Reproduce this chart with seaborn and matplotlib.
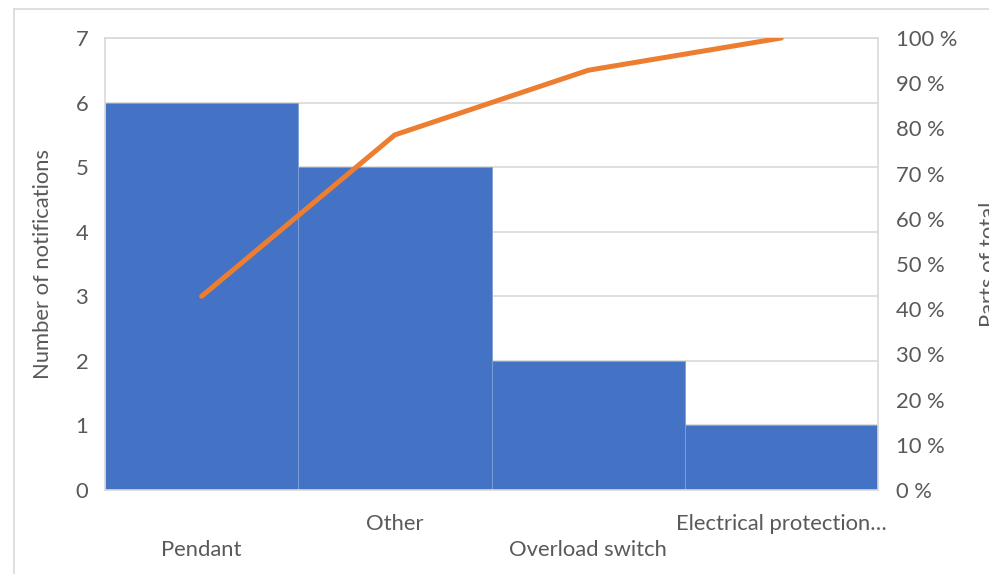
import matplotlib
matplotlib.use("Agg")
import matplotlib.pyplot as plt
import seaborn as sns
import numpy as np
import pandas as pd
from matplotlib.lines import Line2D
from matplotlib.ticker import FuncFormatter

categories = ["Pendant", "Other", "Overload switch", "Electrical protection…"]
counts = [6, 5, 2, 1]
cumulative_pct = [42.86, 78.57, 92.86, 100.0]
left_ticks = [0, 1, 2, 3, 4, 5, 6, 7]
right_ticks = [0, 10, 20, 30, 40, 50, 60, 70, 80, 90, 100]

sns.set_theme(style="white")
plt.rcParams['font.family'] = ['Lato', 'DejaVu Sans']
TXT = "#595959"
FS = 15.8

W, H = 989, 574
fig = plt.figure(figsize=(W / 100, H / 100), dpi=100)
ax = fig.add_axes([105 / W, 1 - 490 / H, (878 - 105) / W, (490 - 38) / H])

df = pd.DataFrame({"cat": categories, "n": counts})
sns.barplot(data=df, x="cat", y="n", ax=ax, color="#4472C4", width=1.0,
            saturation=1, edgecolor="#7f9fd8", linewidth=0.6, zorder=2)
ax.set_xlim(-0.5, 3.5)
ax.set_ylim(0, 7)
ax.set_yticks(left_ticks)
ax.grid(axis="y", color="#D9D9D9", linewidth=1.2, zorder=0)
ax.set_axisbelow(True)
for s in ax.spines.values():
    s.set_color("#D9D9D9")
    s.set_linewidth(1.2)
ax.tick_params(axis="y", length=0, pad=12, labelsize=FS, labelcolor=TXT)
ax.tick_params(axis="x", length=0, pad=17, labelsize=FS, labelcolor=TXT)
labels = [("\n" + c) if i % 2 == 0 else c for i, c in enumerate(categories)]
ax.set_xticks(range(len(categories)))
ax.set_xticklabels(labels)
for t in ax.get_xticklabels():
    t.set_linespacing(1.4)
    t.set_va("top")
ax.set_xlabel("")
ax.set_ylabel("Number of notifications", fontsize=FS, color=TXT, labelpad=16)

ax2 = ax.twinx()
sns.lineplot(x=np.arange(len(categories)), y=cumulative_pct, ax=ax2,
             color="#ED7D31", linewidth=3.6, zorder=3)
ax2.set_ylim(0, 100)
ax2.set_yticks(right_ticks)
ax2.yaxis.set_major_formatter(FuncFormatter(lambda v, p: f"{int(v)} %"))
ax2.tick_params(axis="y", length=0, pad=13, labelsize=FS, labelcolor=TXT)
for s in ax2.spines.values():
    s.set_visible(False)
ax2.grid(False)

fig.text(979 / W, 1 - 264 / H, "Parts of total", rotation=90, fontsize=FS,
         color=TXT, ha="left", va="center")

fig.add_artist(Line2D([14 / W, 1], [1 - 9 / H, 1 - 9 / H], color="#D9D9D9", linewidth=1.2))
fig.add_artist(Line2D([14 / W, 14 / W], [0, 1 - 9 / H], color="#D9D9D9", linewidth=1.2))

fig.savefig("out.png", dpi=100, facecolor="white")
